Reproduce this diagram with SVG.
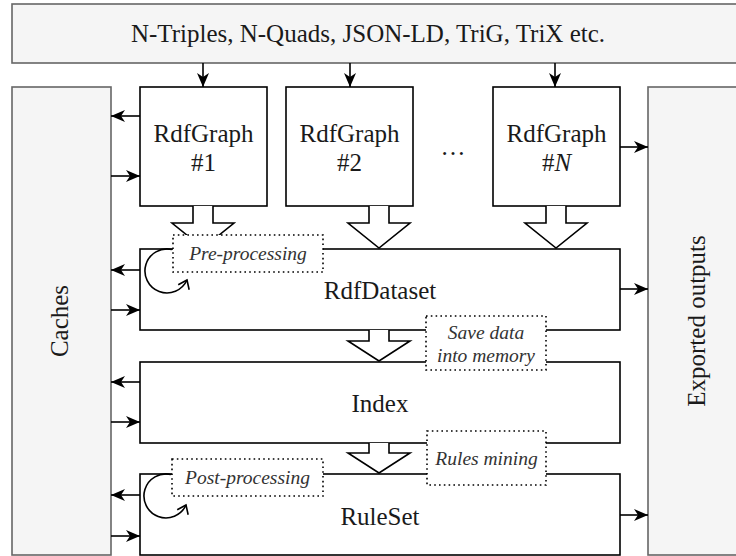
<svg xmlns="http://www.w3.org/2000/svg" width="736" height="556" viewBox="0 0 736 556">
<defs>
<style>
.gray{fill:#f5f5f5;stroke:#666;stroke-width:1.6}
.box{fill:#fff;stroke:#000;stroke-width:1.6}
.t{font-family:"Liberation Serif","Times New Roman",serif;font-size:25px;fill:#1a1a1a;text-anchor:middle}
.it{font-family:"Liberation Serif","Times New Roman",serif;font-size:19.5px;font-style:italic;fill:#333;text-anchor:middle}
.lbl{fill:#fff;stroke:#000;stroke-width:1.6;stroke-dasharray:1.6 3.2}
.ln{fill:none;stroke:#000;stroke-width:1.6;marker-end:url(#ah)}
.blk{fill:#fff;stroke:#000;stroke-width:1.6;stroke-linejoin:miter}
.loop{fill:none;stroke:#000;stroke-width:1.6;marker-end:url(#oa)}
</style>
<marker id="ah" markerWidth="15" markerHeight="13" refX="14" refY="6.5" orient="auto" markerUnits="userSpaceOnUse">
<path d="M0,0.5 L14,6.5 L0,12.5 L4,6.5 Z" fill="#000"/>
</marker>
<marker id="oa" markerWidth="12" markerHeight="14" refX="9" refY="7" orient="auto" markerUnits="userSpaceOnUse">
<path d="M1,1 L9,7 L1,13" fill="none" stroke="#000" stroke-width="1.6"/>
</marker>
</defs>

<g id="formats">
<rect class="gray" x="12" y="4" width="740" height="59"/>
<text class="t" x="368" y="42">N-Triples, N-Quads, JSON-LD, TriG, TriX etc.</text>
</g>

<g id="caches">
<rect class="gray" x="12" y="87" width="99" height="468"/>
<text class="t" transform="translate(60,321) rotate(-90)" x="0" y="8">Caches</text>
</g>

<g id="exported">
<rect class="gray" x="648" y="87" width="100" height="468"/>
<text class="t" transform="translate(697,321) rotate(-90)" x="0" y="8">Exported outputs</text>
</g>

<g id="graph1">
<rect class="box" x="140" y="87" width="127" height="119"/>
<text class="t" x="203.5" y="142">RdfGraph</text>
<text class="t" x="203.5" y="171">#1</text>
</g>

<g id="graph2">
<rect class="box" x="286" y="87" width="127" height="119"/>
<text class="t" x="349.5" y="142">RdfGraph</text>
<text class="t" x="349.5" y="171">#2</text>
</g>

<g id="ellipsis">
<text class="t" x="453" y="155">…</text>
</g>

<g id="graphN">
<rect class="box" x="493" y="87" width="127" height="119"/>
<text class="t" x="556.5" y="142">RdfGraph</text>
<text class="t" x="556.5" y="171">#<tspan font-style="italic">N</tspan></text>
</g>

<g id="dataset">
<rect class="box" x="140" y="249" width="480" height="81"/>
<text class="t" x="380" y="299">RdfDataset</text>
</g>

<g id="index">
<rect class="box" x="140" y="362" width="480" height="81"/>
<text class="t" x="380" y="412">Index</text>
</g>

<g id="ruleset">
<rect class="box" x="140" y="474" width="480" height="81"/>
<text class="t" x="380" y="525">RuleSet</text>
</g>

<g id="connectors">
<path class="ln" d="M203,63 L203,87"/>
<path class="ln" d="M350,63 L350,87"/>
<path class="ln" d="M555,63 L555,87"/>

<path class="ln" d="M140,116 L111,116"/>
<path class="ln" d="M111,176 L140,176"/>
<path class="ln" d="M140,270 L111,270"/>
<path class="ln" d="M111,310 L140,310"/>
<path class="ln" d="M140,382 L111,382"/>
<path class="ln" d="M111,422 L140,422"/>
<path class="ln" d="M140,495 L111,495"/>
<path class="ln" d="M111,536 L140,536"/>

<path class="ln" d="M620,147 L648,147"/>
<path class="ln" d="M620,289 L648,289"/>
<path class="ln" d="M620,515 L648,515"/>

<path class="blk" d="M193,206 L193,223 L172,223 L203,248 L234,223 L213,223 L213,206"/>
<path class="blk" d="M369,206 L369,223 L348,223 L379,248 L410,223 L389,223 L389,206"/>
<path class="blk" d="M546,206 L546,223 L525,223 L556,248 L587,223 L566,223 L566,206"/>
<path class="blk" d="M369,330 L369,341 L348,341 L379,361 L410,341 L389,341 L389,330"/>
<path class="blk" d="M369,443 L369,453 L348,453 L379,473 L410,453 L389,453 L389,443"/>

<path class="loop" d="M172,249.5 A22,22 0 1,0 187,280"/>
<path class="loop" d="M171,474.5 A22,22 0 1,0 186,505"/>
</g>

<g id="label-pre">
<rect class="lbl" x="173" y="235" width="150" height="37"/>
<text class="it" x="248" y="260">Pre-processing</text>
</g>

<g id="label-save">
<rect class="lbl" x="426" y="316" width="120" height="54"/>
<text class="it" x="486" y="339">Save data</text>
<text class="it" x="486" y="362">into memory</text>
</g>

<g id="label-rules">
<rect class="lbl" x="427" y="431" width="119" height="54"/>
<text class="it" x="486.5" y="465">Rules mining</text>
</g>

<g id="label-post">
<rect class="lbl" x="172" y="459" width="151" height="37"/>
<text class="it" x="247.5" y="484">Post-processing</text>
</g>
</svg>
